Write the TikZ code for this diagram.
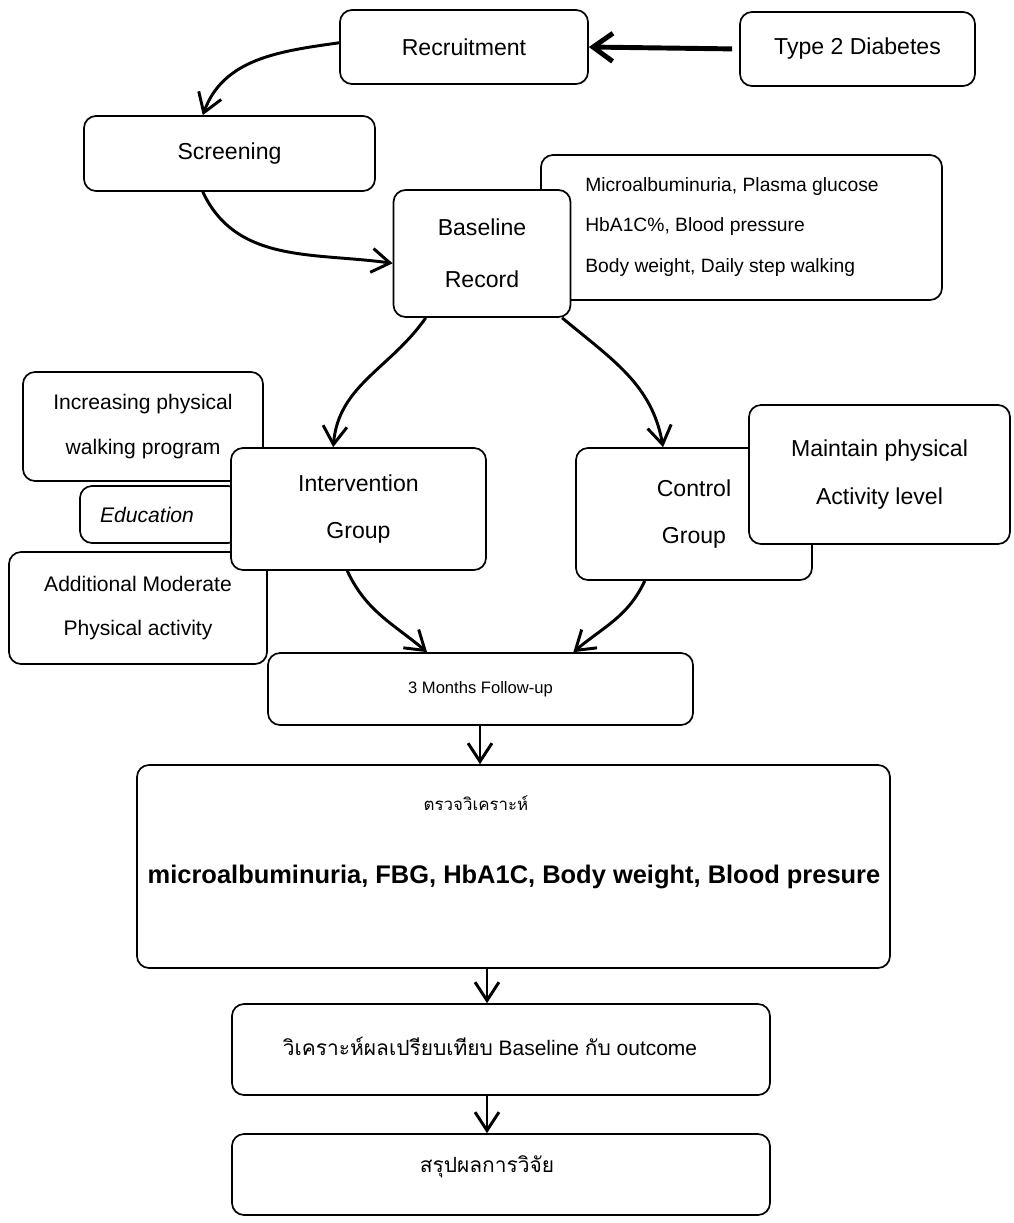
\documentclass[tikz,border=0pt]{standalone}
\usepackage{fontspec}
\setmainfont{Liberation Sans}
\newfontfamily\thaifont[Script=Thai]{Loma}
\usetikzlibrary{arrows.meta}
\newlength\PXU \setlength\PXU{0.025cm}
\begin{document}
\begin{tikzpicture}[x=0.025cm,y=-0.025cm,
  box/.style={draw, line width=1.2pt, rounded corners=0.3cm, fill=white, inner sep=0pt, align=center},
  bigtxt/.style={font=\fontsize{16.4}{34}\selectfont},
  sidetxt/.style={font=\fontsize{15}{31.6}\selectfont},
  thtxt/.style={font=\fontsize{14.9}{18}\selectfont, inner sep=0pt},
  conn/.style={line width=2.1pt, -{Straight Barb[length=13pt,width=17pt]}},
  ]
\useasboundingbox (0,0) rectangle (1013,1223);
% top row
\node[box, bigtxt, minimum width=248*\PXU, minimum height=74*\PXU] (rec) at (464,47) {Recruitment};
\node[box, bigtxt, minimum width=235*\PXU, minimum height=74*\PXU] (t2d) at (857.5,49) {Type 2 Diabetes};
\node[box, bigtxt, minimum width=291*\PXU, minimum height=75*\PXU] (scr) at (229.5,153.5) {Screening};
% baseline
\node[box, minimum width=401*\PXU, minimum height=145*\PXU] (info) at (741.5,227.5) {};
\node[font=\fontsize{13.7}{28.5}\selectfont, align=left, anchor=west, inner sep=0pt] (infoT) at (585,227) {Microalbuminuria, Plasma glucose\\HbA1C\%, Blood pressure\\Body weight, Daily step walking};
\node[box, font=\fontsize{16.4}{37}\selectfont, minimum width=177*\PXU, minimum height=127*\PXU] (base) at (482,253.5) {Baseline\\Record};
% intervention side
\node[box, sidetxt, minimum width=240*\PXU, minimum height=109*\PXU] (inc) at (143,426.5) {Increasing physical\\walking program};
\node[box, sidetxt, minimum width=160*\PXU, minimum height=57*\PXU] (edu) at (160,514.5) {\itshape Education\hspace*{26\PXU}};
\node[box, sidetxt, minimum width=258*\PXU, minimum height=112*\PXU] (add) at (138,608) {Additional Moderate\\Physical activity};
\node[box, bigtxt, minimum width=255*\PXU, minimum height=122*\PXU] (int) at (358.5,509) {Intervention\\Group};
% control side
\node[box, bigtxt, minimum width=236*\PXU, minimum height=132*\PXU] (ctl) at (694,514) {Control\\Group};
\node[box, bigtxt, minimum width=261*\PXU, minimum height=139*\PXU] (mnt) at (879.5,474.5) {Maintain physical\\Activity level};
% follow-up and analysis
\node[box, font=\fontsize{11.8}{14}\selectfont, minimum width=425*\PXU, minimum height=72*\PXU] (fu) at (480.5,689) {3 Months Follow-up};
\node[box, minimum width=753*\PXU, minimum height=203*\PXU] (ana) at (513.5,866.5) {};
\node[font=\thaifont\fontsize{12}{14}\selectfont, inner sep=0pt] (anaT) at (476,803) {ตรวจวิเคราะห์};
\node[font=\bfseries\fontsize{18.1}{20}\selectfont, inner sep=0pt] (anaM) at (514,877) {microalbuminuria, FBG, HbA1C, Body weight, Blood presure};
\node[box, minimum width=538*\PXU, minimum height=91*\PXU] (cmp) at (501,1049.5) {};
\node[thtxt] (cmpT) at (490,1046) {{\thaifont วิเคราะห์ผลเปรียบเทียบ} Baseline {\thaifont กับ} outcome};
\node[box, minimum width=538*\PXU, minimum height=81*\PXU] (con) at (501,1174.5) {};
\node[thtxt] (conT) at (487,1167) {\thaifont สรุปผลการวิจัย};
% connectors
\coordinate (fx) at (480,0);
\coordinate (ax) at (487,0);
\draw[conn, line width=3.5pt, -{Straight Barb[length=14pt,width=20pt]}, shorten <=5pt] (t2d.west) -- (rec.east);
\draw[conn] ([yshift=3pt]rec.west) to[out=188,in=70] ([xshift=-19pt]scr.north);
\draw[conn] ([xshift=-19pt]scr.south) to[out=-65,in=172] ([yshift=-7pt]base.west);
\draw[conn] ([xshift=-40pt]base.south) to[out=-125,in=85] ([xshift=-18pt]int.north);
\draw[conn] ([xshift=57pt]base.south) to[out=-40,in=100] ([xshift=-22pt]ctl.north);
\draw[conn] ([xshift=-8pt]int.south) to[out=-65,in=140] ([xshift=-38pt]fu.north);
\draw[conn] ([xshift=-35pt]ctl.south) to[out=-115,in=40] ([xshift=66pt]fu.north);
\draw[conn] (fu.south -| fx) -- (ana.north -| fx);
\draw[conn] (ana.south -| ax) -- (cmp.north -| ax);
\draw[conn] (cmp.south -| ax) -- (con.north -| ax);
\end{tikzpicture}
\end{document}
